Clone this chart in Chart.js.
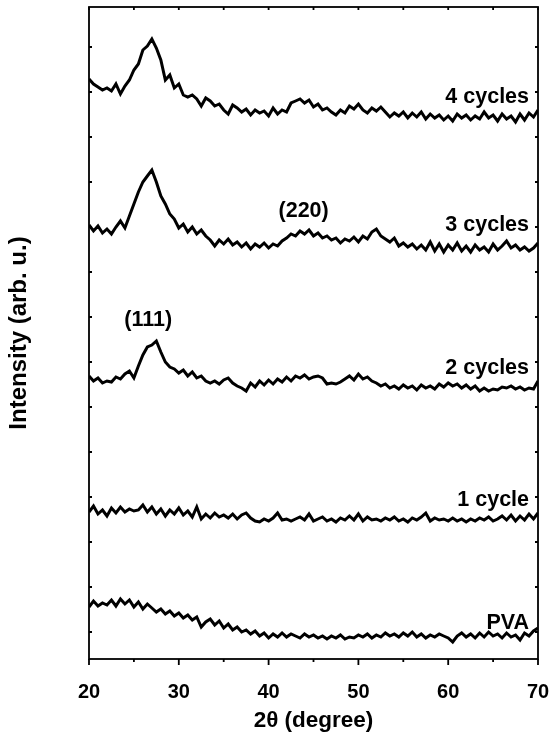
<!DOCTYPE html>
<html>
<head>
<meta charset="utf-8">
<script src="https://cdn.jsdelivr.net/npm/chart.js@4"></script>
<style>
  body { margin: 0; background: #fff; }
  canvas { display: block; }
</style>
</head>
<body>
<canvas id="xrdChart" width="549" height="736"></canvas>
<script>
// XRD patterns, intensities are offset-stacked (arb. u.), sampled every 0.5 degree from 20 to 70
const angleStart = 20;
const angleStep = 0.5;

const xTicks = [20, 30, 40, 50, 60, 70];
const xMinorTicks = [25, 35, 45, 55, 65];

const seriesNames = ['4 cycles', '3 cycles', '2 cycles', '1 cycle', 'PVA'];

const cycles4 = [580, 575, 572, 569, 571, 568, 575, 565, 573, 579, 589, 595, 609, 613, 620, 611, 599, 579, 584, 571,
  575, 564, 562, 564, 560, 553, 561, 558, 553, 555, 549, 545, 554, 551, 547, 550, 544, 549, 546, 548,
  543, 551, 545, 549, 547, 556, 558, 560, 556, 559, 552, 555, 549, 551, 547, 544, 549, 546, 553, 550,
  555, 549, 546, 551, 548, 552, 547, 542, 546, 543, 547, 541, 546, 542, 547, 540, 545, 541, 544, 539,
  543, 538, 545, 541, 544, 539, 543, 540, 547, 541, 544, 538, 545, 540, 543, 537, 545, 539, 546, 542, 549];

const cycles3 = [434, 428, 433, 426, 430, 425, 432, 438, 431, 443, 455, 467, 477, 483, 489, 477, 463, 455, 445, 440,
  431, 435, 427, 432, 425, 429, 423, 419, 413, 419, 415, 420, 414, 417, 412, 416, 410, 415, 412, 416,
  411, 415, 413, 418, 421, 425, 423, 428, 425, 429, 423, 426, 421, 423, 419, 421, 416, 420, 418, 422,
  417, 423, 420, 427, 430, 423, 420, 417, 421, 413, 416, 412, 415, 410, 414, 409, 417, 408, 415, 407,
  414, 409, 416, 408, 413, 407, 414, 409, 412, 407, 415, 409, 413, 418, 411, 414, 409, 412, 408, 411, 416];

const cycles2 = [283, 278, 281, 276, 278, 277, 282, 280, 285, 288, 281, 293, 304, 312, 314, 318, 307, 297, 292, 290,
  286, 289, 283, 287, 281, 283, 278, 276, 278, 275, 279, 281, 276, 273, 271, 268, 276, 272, 278, 274,
  279, 275, 280, 277, 282, 278, 283, 281, 284, 280, 282, 283, 281, 275, 276, 275, 277, 280, 283, 279,
  285, 280, 282, 278, 276, 273, 275, 271, 273, 270, 274, 271, 273, 269, 274, 271, 273, 270, 275, 272,
  276, 273, 275, 271, 274, 270, 273, 268, 271, 268, 270, 269, 272, 271, 273, 270, 272, 269, 271, 270, 278];

const cycles1 = [147, 153, 145, 149, 143, 151, 146, 152, 147, 150, 148, 149, 154, 147, 152, 145, 150, 143, 149, 145,
  151, 144, 148, 142, 152, 140, 145, 141, 146, 142, 144, 141, 145, 140, 144, 146, 141, 138, 137, 140,
  138, 141, 146, 139, 140, 138, 140, 142, 139, 145, 138, 140, 142, 138, 140, 137, 141, 139, 143, 139,
  145, 138, 142, 139, 140, 138, 141, 139, 142, 138, 140, 137, 141, 139, 142, 146, 138, 141, 139, 140,
  138, 141, 138, 140, 137, 140, 138, 141, 139, 142, 138, 140, 143, 139, 144, 138, 143, 139, 145, 140, 146];

const pva = [52, 58, 53, 56, 54, 59, 53, 60, 55, 59, 52, 57, 50, 55, 51, 47, 50, 45, 48, 43,
  46, 41, 44, 39, 42, 32, 37, 40, 34, 38, 31, 35, 29, 32, 27, 29, 25, 28, 23, 26,
  21, 25, 22, 26, 22, 25, 23, 21, 25, 22, 24, 21, 23, 20, 23, 21, 24, 20, 22, 21,
  24, 22, 25, 21, 24, 22, 26, 23, 25, 22, 26, 23, 27, 22, 25, 21, 24, 22, 25, 23,
  21, 17, 23, 26, 22, 25, 21, 26, 22, 27, 23, 25, 21, 26, 22, 24, 19, 26, 23, 28, 31];

// text labels placed in data coordinates (2theta, intensity)
const annotations = [
  { text: '4 cycles', x: 69.0, y: 562, align: 'right' },
  { text: '3 cycles', x: 69.0, y: 434, align: 'right' },
  { text: '2 cycles', x: 69.0, y: 291, align: 'right' },
  { text: '1 cycle', x: 69.0, y: 159, align: 'right' },
  { text: 'PVA', x: 69.0, y: 36, align: 'right' },
  { text: '(111)', x: 26.6, y: 339, align: 'center' },
  { text: '(220)', x: 43.9, y: 448, align: 'center' }
];

const FONT = '"Liberation Sans", Arial, Helvetica, sans-serif';

function toPoints(values) {
  return values.map((v, i) => ({ x: angleStart + i * angleStep, y: v }));
}

const allSeries = [cycles4, cycles3, cycles2, cycles1, pva];

// frame, mirrored ticks and curve labels
const framePlugin = {
  id: 'frame',
  afterDatasetsDraw(chart) {
    const { ctx, chartArea: a, scales } = chart;
    const xs = scales.x, ys = scales.y;
    ctx.save();
    ctx.strokeStyle = '#000';
    ctx.lineWidth = 1.8;
    ctx.strokeRect(a.left, a.top, a.right - a.left, a.bottom - a.top);

    ctx.beginPath();
    xTicks.forEach(v => {
      const px = xs.getPixelForValue(v);
      ctx.moveTo(px, a.bottom); ctx.lineTo(px, a.bottom + 6);
      ctx.moveTo(px, a.top); ctx.lineTo(px, a.top + 3);
    });
    xMinorTicks.forEach(v => {
      const px = xs.getPixelForValue(v);
      ctx.moveTo(px, a.bottom); ctx.lineTo(px, a.bottom + 3);
      ctx.moveTo(px, a.top); ctx.lineTo(px, a.top + 3);
    });
    for (let v = 27; v < 652; v += 45) {
      const py = ys.getPixelForValue(v);
      ctx.moveTo(a.left, py); ctx.lineTo(a.left + 3, py);
      ctx.moveTo(a.right, py); ctx.lineTo(a.right - 3, py);
    }
    ctx.stroke();

    ctx.fillStyle = '#000';
    ctx.font = 'bold 21.5px ' + FONT;
    ctx.textBaseline = 'middle';
    annotations.forEach(t => {
      ctx.textAlign = t.align;
      ctx.fillText(t.text, xs.getPixelForValue(t.x), ys.getPixelForValue(t.y));
    });
    ctx.restore();
  }
};

Chart.defaults.font.family = FONT;
Chart.defaults.color = '#000';

const ctxXrd = document.getElementById('xrdChart').getContext('2d');
const xrdChart = new Chart(ctxXrd, {
  type: 'line',
  data: {
    datasets: allSeries.map((s, i) => ({
      label: seriesNames[i],
      data: toPoints(s),
      borderColor: '#000',
      borderWidth: 3,
      pointRadius: 0,
      fill: false,
      tension: 0
    }))
  },
  options: {
    responsive: false,
    animation: false,
    layout: { padding: { top: 7, right: 11, left: 0, bottom: 0 } },
    plugins: {
      legend: { display: false },
      tooltip: { enabled: false }
    },
    scales: {
      x: {
        type: 'linear',
        min: 20,
        max: 70,
        grid: { display: false },
        border: { display: false },
        afterBuildTicks: scale => { scale.ticks = xTicks.map(v => ({ value: v })); },
        afterFit: scale => {
          scale.height = 77;
          scale.paddingLeft = 0;
          scale.paddingRight = 0;
        },
        ticks: {
          padding: 13,
          maxRotation: 0,
          font: { size: 20, weight: 'bold' }
        },
        title: {
          display: true,
          text: '2θ (degree)',
          padding: { top: 0, bottom: 2 },
          font: { size: 22.5, weight: 'bold' }
        }
      },
      y: {
        min: 0,
        max: 652,
        grid: { display: false },
        border: { display: false },
        ticks: { display: false },
        afterFit: scale => { scale.width = 89; },
        title: {
          display: true,
          text: 'Intensity (arb. u.)',
          padding: { top: 5, bottom: 0 },
          font: { size: 24, weight: 'bold' }
        }
      }
    }
  },
  plugins: [framePlugin]
});
</script>
</body>
</html>
